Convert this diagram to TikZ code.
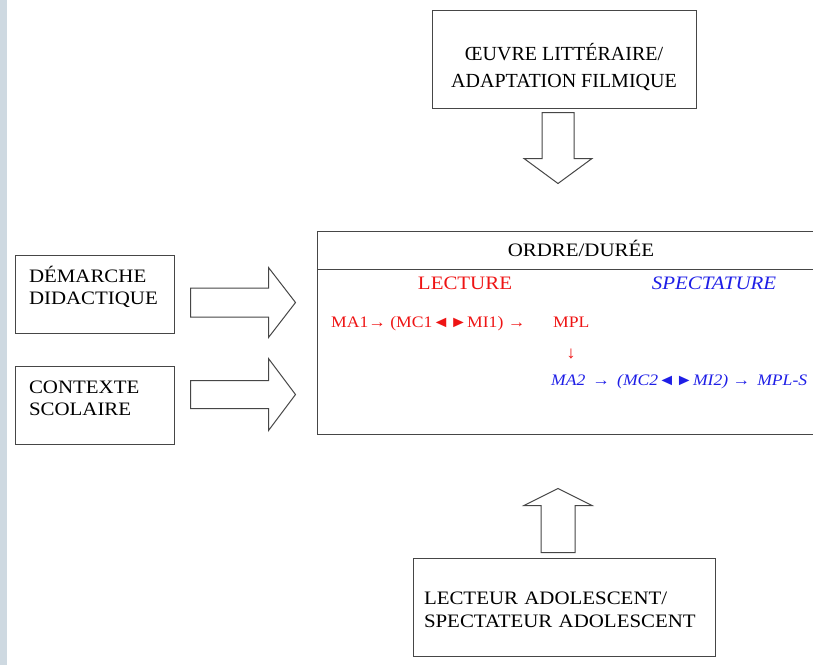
\documentclass[tikz,border=0pt]{standalone}
\usepackage{fontspec}
\setmainfont[FakeStretch=1.1]{Liberation Serif}
\newfontfamily\topfont[FakeStretch=1.0]{Liberation Serif}
\usetikzlibrary{calc}
\definecolor{band}{RGB}{206,217,225}
\definecolor{edge}{RGB}{70,70,70}
\definecolor{rd}{RGB}{238,20,20}
\definecolor{bl}{RGB}{30,30,230}
\newcommand\mytopstrut[1]{\rule{0pt}{#1}}
\newcommand\mybotstrut[1]{\rule[-#1]{0pt}{#1}}
\tikzset{
  box/.style={draw=edge, line width=1pt, rectangle, inner sep=0pt},
  txt/.style={font=\fontsize{19}{22.5}\selectfont, inner sep=0pt},
  small/.style={font=\fontsize{16}{18}\selectfont, inner sep=0pt},
  blk/.style={draw=edge, line width=1pt, fill=white, line join=miter},
  sep/.style={draw=edge, line width=1pt},
}
\begin{document}
\begin{tikzpicture}[x=1pt,y=-1pt]
\useasboundingbox (0,0) rectangle (813,665);
\clip (0,0) rectangle (813,665);
\fill[band] (0,0) rectangle (7,665);

% top box
\node[box, font=\topfont\fontsize{20}{27}\selectfont, minimum width=264, minimum height=98, align=center] (oeuvre) at (564,59)
  {\mytopstrut{35.2pt}ŒUVRE LITTÉRAIRE/\\ADAPTATION FILMIQUE\mybotstrut{5pt}};

% main box
\node[box, minimum width=530, minimum height=203, anchor=north west] (main) at (317,231) {};
\coordinate (divy) at (0,269);
\draw[sep] (main.west |- divy) -- (main.east |- divy);
\node[txt, anchor=base] (ordre) at (581,256.5) {ORDRE/DURÉE};
\node[txt, anchor=base, text=rd] (lecture) at (465,289) {LECTURE};
\node[txt, anchor=base, text=bl, font=\fontsize{19}{22.5}\selectfont\itshape] (spect) at (714,289) {SPECTATURE};
\node[small, anchor=base west, text=rd] (ma1) at (331,327) {MA1→ (MC1◄►MI1) →};
\node[small, anchor=base west, text=rd] (mpl) at (553,327) {MPL};
\node[small, anchor=base, text=rd, font=\fontsize{17}{18}\selectfont] (down) at (571,358) {↓};
\node[small, anchor=base west, text=bl, font=\fontsize{16}{18}\selectfont\itshape] (ma2) at (551,385)
  {MA2 \,→\, (MC2◄►MI2) → \,MPL-S};

% left boxes
\node[box, txt, minimum width=159, minimum height=78, text width=131, inner xsep=14pt, align=left] (demarche) at (94.5,294)
  {\mytopstrut{18pt}DÉMARCHE\\DIDACTIQUE\mybotstrut{19pt}};
\node[box, txt, minimum width=159, minimum height=78, text width=131, inner xsep=14pt, align=left] (contexte) at (94.5,405)
  {\mytopstrut{18pt}CONTEXTE\\SCOLAIRE\mybotstrut{19pt}};

% bottom box
\node[box, txt, font=\fontsize{19}{23}\selectfont, minimum width=302, minimum height=98, text width=280, inner xsep=11pt, align=left] (lecteur) at (564,607)
  {\mytopstrut{22pt}LECTEUR ADOLESCENT/\\SPECTATEUR ADOLESCENT\mybotstrut{5pt}};

% block arrows
\coordinate (dA) at ($(oeuvre.south)+(-6,4)$);
\draw[blk] (dA) ++(-16,0) -- ++(0,46) -- ++(-18,0) -- ++(34,25) -- ++(34,-25) -- ++(-18,0) -- ++(0,-46) -- cycle;

\coordinate (r1) at ($(demarche.east)+(16,8.5)$);
\draw[blk] (r1) ++(0,-14.5) -- ++(78,0) -- ++(0,-20.5) -- ++(27,35) -- ++(-27,35) -- ++(0,-20.5) -- ++(-78,0) -- cycle;

\coordinate (r2) at ($(contexte.east)+(16,-10.5)$);
\draw[blk] (r2) ++(0,-14) -- ++(78,0) -- ++(0,-22) -- ++(27,36) -- ++(-27,36) -- ++(0,-22) -- ++(-78,0) -- cycle;

\coordinate (uA) at ($(lecteur.north)+(-6,-5)$);
\draw[blk] (uA) ++(-17,0) -- ++(0,-47) -- ++(-17,0) -- ++(34,-17) -- ++(34,17) -- ++(-17,0) -- ++(0,47) -- cycle;
\end{tikzpicture}
\end{document}
